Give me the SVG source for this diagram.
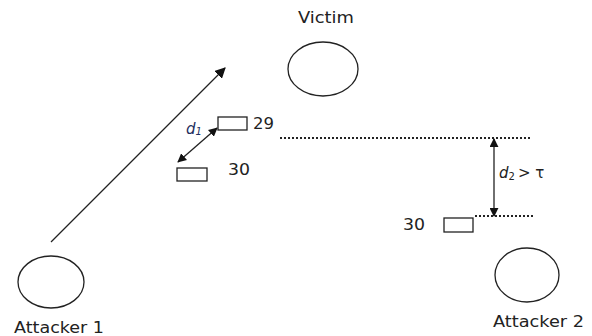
<svg xmlns="http://www.w3.org/2000/svg" width="592" height="336" viewBox="0 0 592 336">
<style>
.node{fill:none;stroke:#222;stroke-width:1.3}
.lbl{font-family:"DejaVu Sans","Liberation Sans",sans-serif;font-size:15.5px;fill:#222}
.ln{stroke:#222;stroke-width:1.3;fill:none}
.dot{stroke:#222;stroke-width:2;stroke-dasharray:2 2;fill:none}
</style>
<defs>
<marker id="ah" viewBox="0 0 10 10" refX="9" refY="5" markerWidth="9" markerHeight="9" markerUnits="userSpaceOnUse" orient="auto-start-reverse">
<path d="M0,0 L10,5 L0,10 z" fill="#111"/>
</marker>
<marker id="ahs" viewBox="0 0 10 10" refX="9" refY="5" markerWidth="11" markerHeight="11" markerUnits="userSpaceOnUse" orient="auto-start-reverse">
<path d="M0,0 L10,5 L0,10 z" fill="#111"/>
</marker>
</defs>
<g id="victim">
<ellipse class="node" cx="323" cy="69" rx="35" ry="27"/>
<text class="lbl" x="298" y="23" textLength="56" lengthAdjust="spacingAndGlyphs">Victim</text>
</g>
<g id="attacker1">
<ellipse class="node" cx="51" cy="282" rx="33" ry="26"/>
<text class="lbl" x="14" y="333" textLength="90" lengthAdjust="spacingAndGlyphs">Attacker 1</text>
</g>
<g id="attacker2">
<ellipse class="node" cx="527" cy="275" rx="32" ry="27"/>
<text class="lbl" x="493" y="327" textLength="91" lengthAdjust="spacingAndGlyphs">Attacker 2</text>
</g>
<g id="packet29">
<rect class="node" x="218" y="117" width="29" height="13"/>
<text class="lbl" x="253" y="129" textLength="21" lengthAdjust="spacingAndGlyphs">29</text>
</g>
<g id="packet30a">
<rect class="node" x="177" y="168" width="30" height="13"/>
<text class="lbl" x="228" y="175" textLength="22" lengthAdjust="spacingAndGlyphs">30</text>
</g>
<g id="packet30b">
<rect class="node" x="444" y="218" width="29" height="14"/>
<text class="lbl" x="403" y="230" textLength="22" lengthAdjust="spacingAndGlyphs">30</text>
</g>
<g id="connectors">
<line class="ln" x1="51" y1="242" x2="225" y2="68" marker-end="url(#ahs)"/>
<line class="ln" x1="178" y1="162" x2="217" y2="128" marker-start="url(#ah)" marker-end="url(#ah)"/>
<line class="dot" x1="280" y1="138" x2="531" y2="138"/>
<line class="dot" x1="475" y1="216" x2="534" y2="216"/>
<line class="ln" x1="494" y1="139" x2="494" y2="216" marker-start="url(#ah)" marker-end="url(#ah)"/>
<text x="186" y="134" font-family="'DejaVu Sans',sans-serif" font-style="italic" font-size="15" fill="#1f3060">d<tspan font-size="10" dy="1">1</tspan></text>
<text x="499" y="178" font-family="'DejaVu Sans',sans-serif" font-size="15" fill="#222"><tspan font-style="italic">d</tspan><tspan font-size="10" dy="2">2</tspan><tspan dy="-2" dx="3">&gt; τ</tspan></text>
</g>
</svg>
